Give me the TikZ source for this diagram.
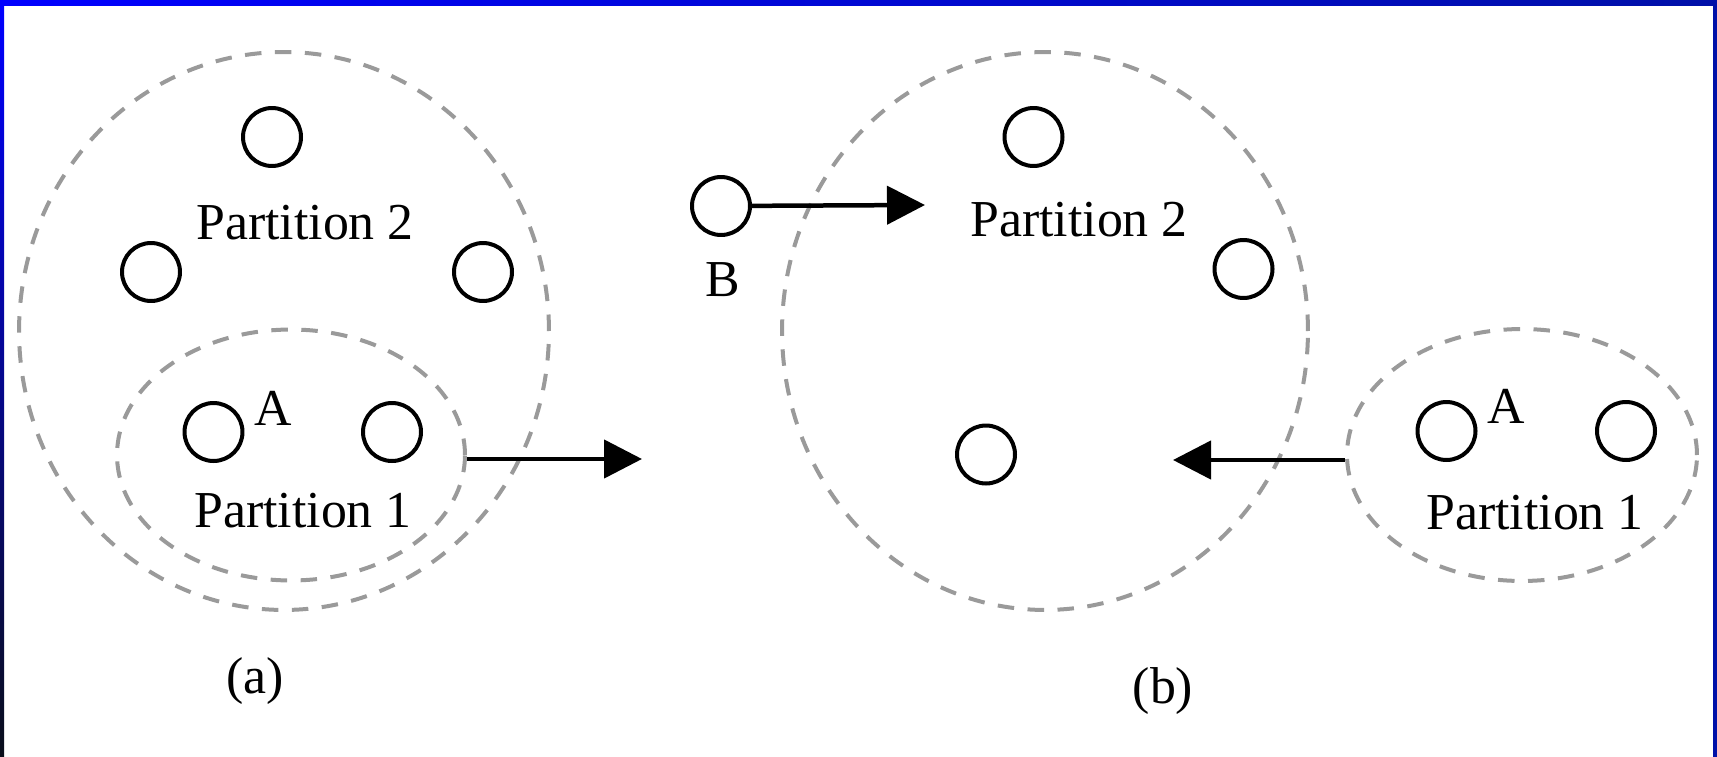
\documentclass[tikz,border=0pt]{standalone}
\usepackage{fontspec}
\setmainfont{Liberation Serif}
\usepackage{tikz}
\usetikzlibrary{shapes.geometric,arrows.meta,positioning}
\definecolor{FrameBlue}{HTML}{0000FF}
\definecolor{FrameNavy}{HTML}{0010A8}
\definecolor{FrameDark}{HTML}{0A0E1A}
\definecolor{DashGray}{HTML}{9A9A9A}
\tikzset{
  part/.style={ellipse,draw=DashGray,line width=0.08cm,
               dash pattern=on 0.33cm off 0.27cm,inner sep=0pt},
  peer/.style={circle,draw=black,line width=0.08cm,
               minimum size=1.16cm,inner sep=0pt},
  lbl/.style={anchor=base,inner sep=0pt,
              font=\fontsize{29.5}{35}\selectfont},
  arr/.style={-{Triangle[length=0.76cm,width=0.76cm]},line width=0.09cm}
}

\begin{document}
\begin{tikzpicture}[x=0.02cm,y=-0.02cm]
  \useasboundingbox (0,0) rectangle (1717,757);

  % Frame
  \shade[left color=FrameBlue,right color=FrameNavy] (0,0) rectangle (1717,6);
  \shade[top color=FrameBlue,bottom color=FrameDark] (0,6) rectangle (4,757);
  \fill[FrameNavy] (1713,6) rectangle (1717,757);

  % (a)
  \node[part,minimum width=10.6cm,minimum height=11.16cm] (bigA) at (284,331) {};
  \node[part,minimum width=6.96cm,minimum height=5.02cm] (smallA) at (291,455) {};
  \node[peer] (a1) at (272,137) {};
  \node[peer] (a2) at (151,272) {};
  \node[peer] (a3) at (483,272) {};
  \node[peer] (a4) at (213.5,432) {};
  \node[peer] (a5) at (392,432) {};
  \node[lbl] (partTwoA) at (305,239) {Partition 2};
  \node[lbl] (labelA) at (273,425) {A};
  \node[lbl] (partOneA) at (303,527) {Partition 1};
  \node[lbl] (capA) at (255,693) {(a)};

  \coordinate (tipA) at (642,459);
  \draw[arr] (smallA.east |- tipA) -- (tipA);

  % (b)
  \node[part,minimum width=10.52cm,minimum height=11.16cm] (bigB) at (1045,331) {};
  \node[part,minimum width=7.0cm,minimum height=5.04cm] (smallB) at (1522,455) {};
  \node[peer] (b1) at (1033.5,137) {};
  \node[peer] (b2) at (1243.5,269) {};
  \node[peer] (b3) at (986,454.5) {};
  \node[peer] (nodeB) at (721,206) {};
  \node[peer] (b4) at (1446.5,431) {};
  \node[peer] (b5) at (1626,431) {};
  \node[lbl] (labelB) at (723,296) {B};
  \node[lbl] (partTwoB) at (1079,236) {Partition 2};
  \node[lbl] (labelAb) at (1506,423) {A};
  \node[lbl] (partOneB) at (1535,529) {Partition 1};
  \node[lbl] (capB) at (1163,703) {(b)};

  \coordinate (tipB) at (925,205);
  \coordinate (tipC) at (1173,460);
  \draw[arr] (nodeB) -- (tipB);
  \draw[arr] (smallB.west |- tipC) -- (tipC);
\end{tikzpicture}
\end{document}
